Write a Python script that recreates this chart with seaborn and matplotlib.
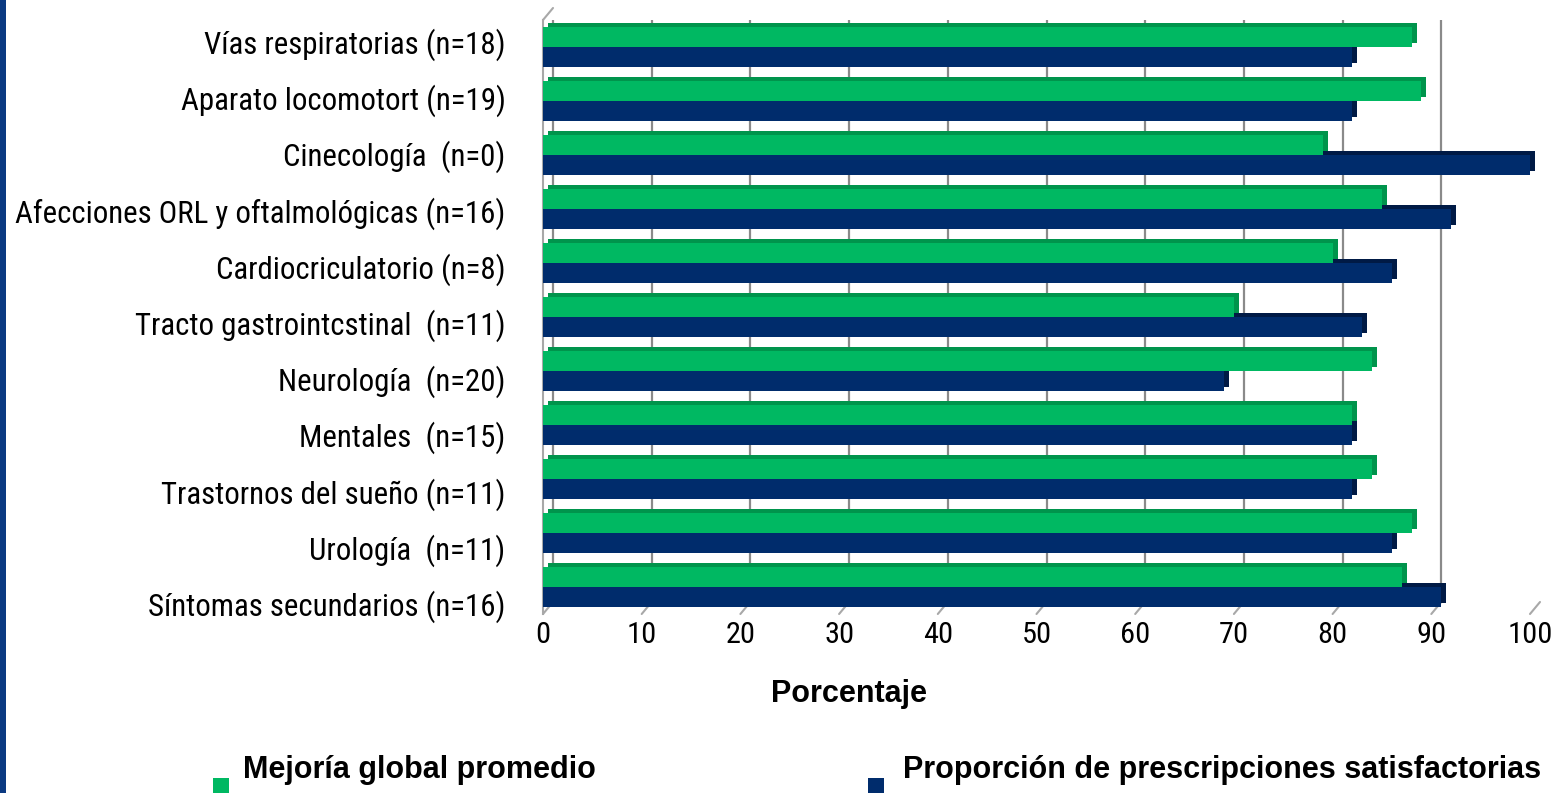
import matplotlib
matplotlib.use("Agg")
import matplotlib.pyplot as plt
import matplotlib.transforms as mtransforms
from matplotlib import font_manager as fm
from matplotlib.patches import Rectangle
from matplotlib.lines import Line2D
import numpy as np
import pandas as pd
import seaborn as sns

# ---- data -------------------------------------------------------------
categories = [
    "Vías respiratorias (n=18)",
    "Aparato locomotort (n=19)",
    "Cinecología  (n=0)",
    "Afecciones ORL y oftalmológicas (n=16)",
    "Cardiocriculatorio (n=8)",
    "Tracto gastrointcstinal  (n=11)",
    "Neurología  (n=20)",
    "Mentales  (n=15)",
    "Trastornos del sueño (n=11)",
    "Urología  (n=11)",
    "Síntomas secundarios (n=16)",
]
mejoria = [88, 89, 79, 85, 80, 70, 84, 82, 84, 88, 87]
prescripciones = [82, 82, 100, 92, 86, 83, 69, 82, 82, 86, 91]
series_names = ["Mejoría global promedio", "Proporción de prescripciones satisfactorias"]
x_ticks = [0, 10, 20, 30, 40, 50, 60, 70, 80, 90, 100]
x_label = "Porcentaje"

# ---- style ------------------------------------------------------------
GREEN = "#00B862"
GREEN_DARK = "#00944C"
NAVY = "#002C6C"
NAVY_DARK = "#001A45"
GRID = "#8A8A8A"
WALL = "#A8A8A8"

sns.set_theme(style="white")
plt.rcParams["font.family"] = ["Liberation Sans", "DejaVu Sans"]
plt.rcParams["text.color"] = "black"


def pick_narrow_font():
    """Return FontProperties of a narrow sans face if one is installed."""
    wanted = ["Liberation Sans Narrow", "Roboto Condensed", "Open Sans Condensed",
              "Noto Sans Condensed", "DejaVu Sans"]
    for name in wanted:
        for f in fm.fontManager.ttflist:
            if f.name != name or f.style != "normal":
                continue
            if f.weight not in (400, "normal", "regular", "Regular"):
                continue
            is_narrow = ("Narrow" in f.name or "Condensed" in f.name
                         or str(f.stretch) in ("condensed", "semi-condensed", "550"))
            if is_narrow:
                return fm.FontProperties(fname=f.fname)
    return fm.FontProperties(family="Liberation Sans")


label_font = pick_narrow_font()

df = pd.DataFrame({
    "categoria": categories * 2,
    "valor": mejoria + prescripciones,
    "serie": [series_names[0]] * len(categories) + [series_names[1]] * len(categories),
})

W, H = 1565, 793
fig = plt.figure(figsize=(W / 100, H / 100), dpi=100)
fig.patch.set_facecolor("white")

# plot area (front plane of the 3-D box)
ax_l, ax_r, ax_t, ax_b = 543, 1530, 20, 614
ax = fig.add_axes([ax_l / W, 1 - ax_b / H, (ax_r - ax_l) / W, (ax_b - ax_t) / H])

sns.barplot(
    data=df, y="categoria", x="valor", hue="serie",
    order=categories, hue_order=series_names,
    palette=[GREEN, NAVY], width=0.74, orient="h",
    saturation=1, linewidth=0, legend=False, ax=ax, zorder=3,
)

ax.set_xlim(0, 100)
ax.set_ylim(len(categories) - 0.5, -0.5)
ax.set_xticks(x_ticks)
ax.set_xticklabels([str(t) for t in x_ticks])
# category labels sit on a slightly wider pitch than the bar groups
ax.set_yticks(np.linspace(-0.11, len(categories) - 0.70, len(categories)))
ax.set_yticklabels(categories)
ax.set_xlabel("")
ax.set_ylabel("")
ax.tick_params(axis="y", length=0, pad=27, labelcolor="black")
ax.tick_params(axis="x", length=0, pad=5, labelcolor="black")
for s in ["top", "right", "bottom"]:
    ax.spines[s].set_visible(False)
ax.spines["left"].set_color(WALL)
ax.spines["left"].set_linewidth(1.5)
ax.set_facecolor("none")

# size the narrow tick labels so the longest category spans ~490 px
renderer = fig.canvas.get_renderer()


def fitted_size(text, target_px, fp):
    probe = fig.text(0, 0, text, fontproperties=fp, fontsize=20)
    w = probe.get_window_extent(renderer).width
    probe.remove()
    return 20 * target_px / w


y_size = fitted_size(max(categories, key=len), 490, label_font)
x_size = fitted_size("100", 45, label_font)
for lbl in ax.get_yticklabels():
    lbl.set_fontproperties(label_font)
    lbl.set_fontsize(y_size)
    lbl.set_color("black")
for lbl in ax.get_xticklabels():
    lbl.set_fontproperties(label_font)
    lbl.set_fontsize(x_size)
    lbl.set_color("black")

# depth of the box (back wall) and of the bars, in pixels
wall_dx, wall_dy = 10, 12
bar_dx, bar_dy = 5, 4
px = 1 / 100.0

back_axes_x = ax.get_xaxis_transform() + mtransforms.ScaledTranslation(
    wall_dx * px, wall_dy * px, fig.dpi_scale_trans)

# gridlines on the back wall
for t in x_ticks:
    ax.add_line(Line2D([t, t], [0, 1], transform=back_axes_x,
                       color=GRID if t < 100 else WALL, lw=1.6, zorder=1))

# floor edge ticks and left wall joints
ux = (ax.get_xlim()[1] - ax.get_xlim()[0]) / (ax_r - ax_l)
uy = 1.0 / (ax_b - ax_t)
xt = ax.get_xaxis_transform()
for t in x_ticks:
    ax.add_line(Line2D([t, t + wall_dx * ux], [0, wall_dy * uy], transform=xt,
                       color=WALL, lw=1.5, zorder=1, clip_on=False))
ax.add_line(Line2D([0, wall_dx * ux], [1, 1 + wall_dy * uy], transform=xt,
                   color=WALL, lw=1.5, zorder=1, clip_on=False))

# extruded side of each bar (top face and end cap), drawn behind the front face
depth = mtransforms.ScaledTranslation(bar_dx * px, bar_dy * px, fig.dpi_scale_trans)
for bar in list(ax.patches):
    fc = bar.get_facecolor()
    is_green = fc[1] > fc[2]
    side = Rectangle((bar.get_x(), bar.get_y()), bar.get_width(), bar.get_height(),
                     transform=ax.transData + depth,
                     facecolor=GREEN_DARK if is_green else NAVY_DARK,
                     edgecolor="none", zorder=2.5 if is_green else 2.4, clip_on=False)
    ax.add_patch(side)

# axis title
fig.text(849 / W, 1 - 694 / H, x_label, ha="center", va="center",
         fontsize=22, fontweight="bold", color="black")

# legend
legend_items = [(213, 243, GREEN, series_names[0]), (868, 903, NAVY, series_names[1])]
for mx, tx, col, name in legend_items:
    fig.patches.append(Rectangle((mx / W, 0), 16 / W, 15 / H, transform=fig.transFigure,
                                 facecolor=col, edgecolor="none"))
    fig.text(tx / W, 1 - 770 / H, name, ha="left", va="center", fontsize=22,
             fontweight="bold", color="black")

# frame strip on the left edge
fig.patches.append(Rectangle((0, 0), 6 / W, 1, transform=fig.transFigure,
                             facecolor="#0B3A82", edgecolor="none"))

fig.savefig("out.png", dpi=100, facecolor="white")
